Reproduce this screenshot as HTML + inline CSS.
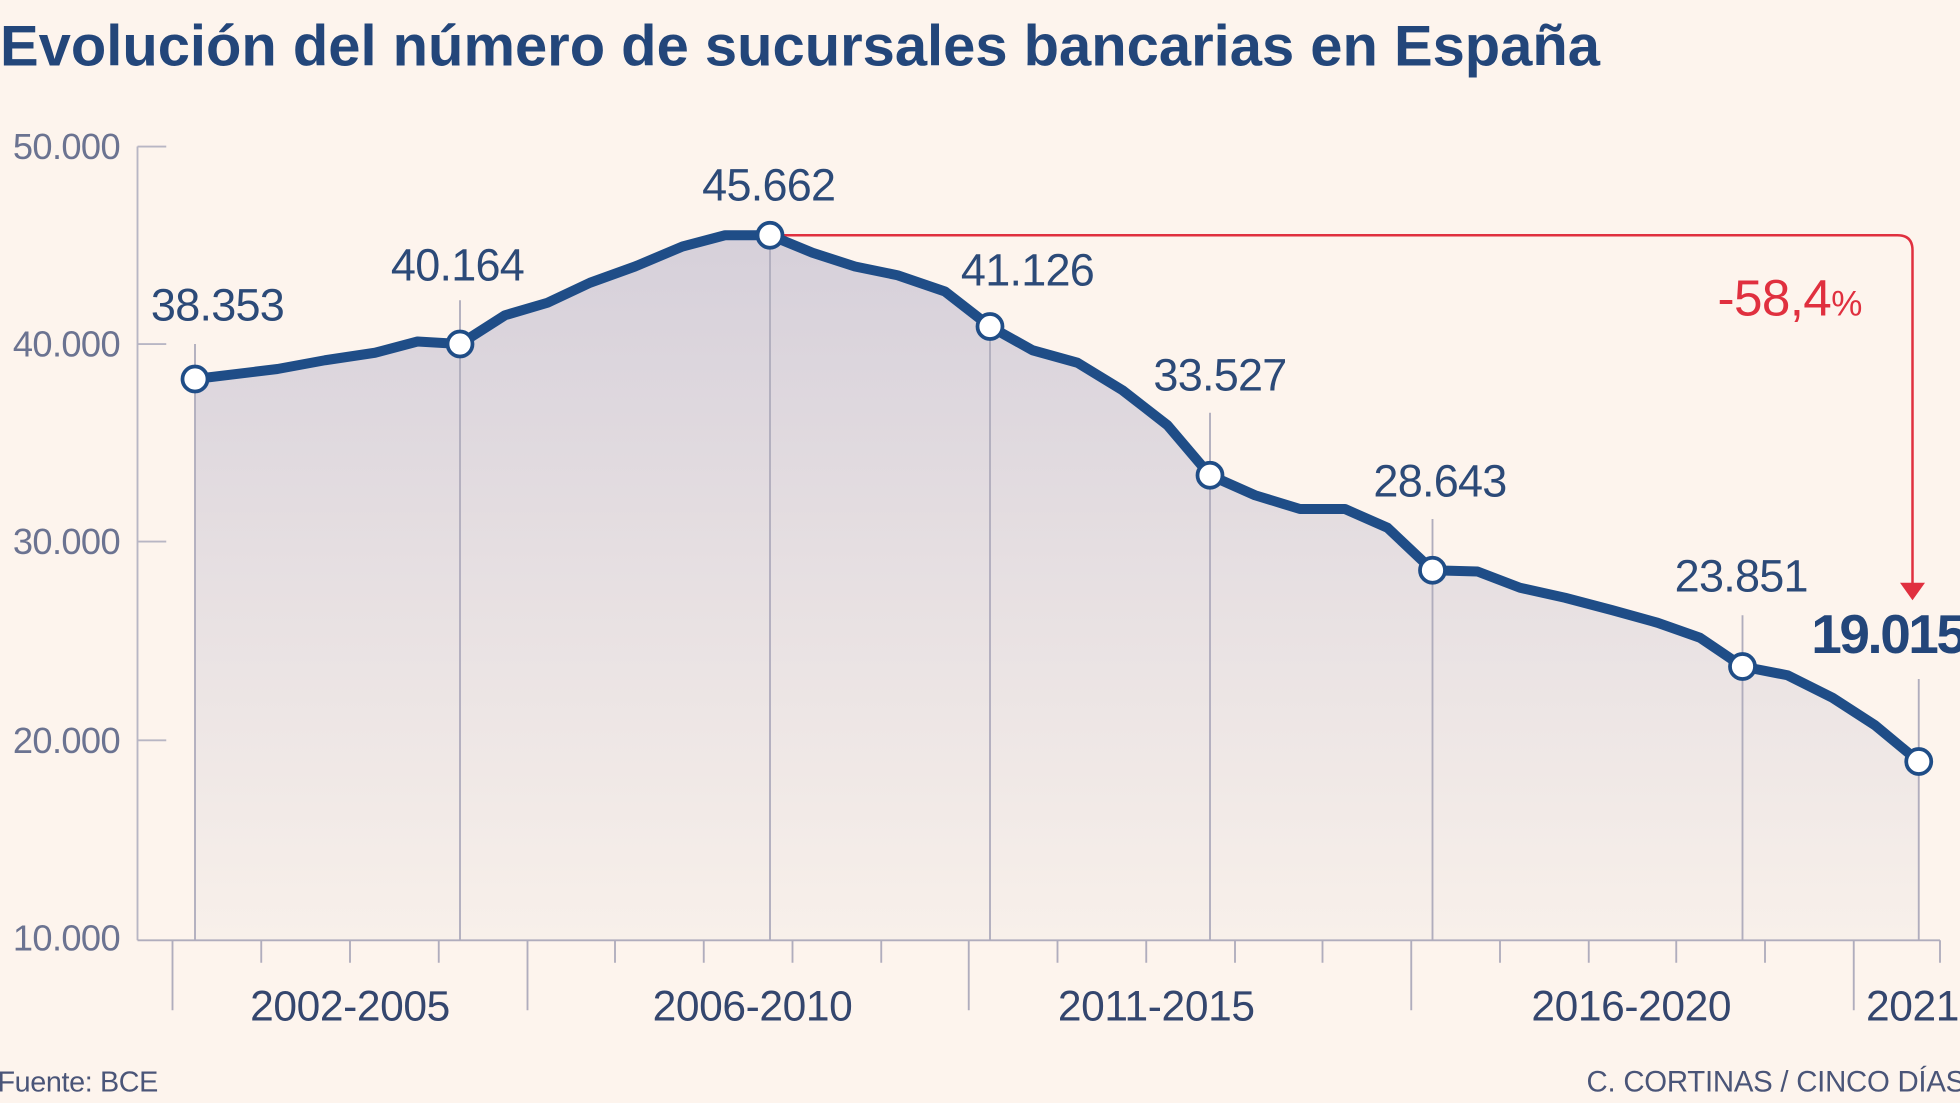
<!DOCTYPE html>
<html><head><meta charset="utf-8"><style>
html,body{margin:0;padding:0;background:#fdf4ed;}
svg{display:block;}
text{font-family:"Liberation Sans",sans-serif;}
</style></head><body>
<svg width="1960" height="1103" viewBox="0 0 1568 882" xmlns="http://www.w3.org/2000/svg">
<defs>
<linearGradient id="g" x1="0" y1="0" x2="0" y2="1">
<stop offset="0" stop-color="#d6d0da"/><stop offset="1" stop-color="#f8f0ea"/>
</linearGradient>
</defs>
<rect width="1568" height="882" fill="#fdf4ed"/>
<text x="0" y="52" font-size="46" font-weight="bold" fill="#23467a" textLength="1280" lengthAdjust="spacingAndGlyphs">Evolución del número de sucursales bancarias en España</text>
<g fill="#6b7391" font-size="29" text-anchor="end" letter-spacing="-0.5">
<text x="96" y="127">50.000</text><text x="96" y="285">40.000</text><text x="96" y="443">30.000</text><text x="96" y="602">20.000</text><text x="96" y="760">10.000</text>
</g>
<g stroke="#b8b6c4" stroke-width="1.5">
<line x1="110" y1="117" x2="110" y2="752"/>
<line x1="110" y1="117" x2="133" y2="117"/><line x1="110" y1="275" x2="133" y2="275"/><line x1="110" y1="433" x2="133" y2="433"/><line x1="110" y1="592" x2="133" y2="592"/>
</g>
<path d="M156,303 L222,295 L260,288 L300,282 L334,273 L368,275 L404,252 L438,242 L472,226 L508,213 L546,197 L580,188 L616,188 L650,202 L684,213 L718,220 L756,233 L792,261 L826,280 L862,290 L898,312 L934,340 L968,380 L1004,396 L1040,407 L1076,407 L1110,422 L1146,456 L1182,457 L1216,470 L1252,478 L1290,488 L1326,498 L1360,510 L1394,533 L1430,540 L1466,558 L1500,580 L1535,609 L1535,752 L156,752 Z" fill="url(#g)"/>
<g stroke="#b0adbd" stroke-width="1.5">
<line x1="156" y1="275" x2="156" y2="752"/><line x1="368" y1="240" x2="368" y2="752"/><line x1="616" y1="188" x2="616" y2="752"/><line x1="792" y1="261" x2="792" y2="752"/><line x1="968" y1="330" x2="968" y2="752"/><line x1="1146" y1="415" x2="1146" y2="752"/><line x1="1394" y1="492" x2="1394" y2="752"/><line x1="1535" y1="543" x2="1535" y2="752"/>
<line x1="110" y1="752" x2="1552" y2="752"/>
</g>
<g stroke="#b0adbd" stroke-width="1.5">
<line x1="138" y1="752" x2="138" y2="808"/><line x1="209" y1="752" x2="209" y2="770"/><line x1="280" y1="752" x2="280" y2="770"/><line x1="351" y1="752" x2="351" y2="770"/><line x1="422" y1="752" x2="422" y2="808"/><line x1="492" y1="752" x2="492" y2="770"/><line x1="563" y1="752" x2="563" y2="770"/><line x1="634" y1="752" x2="634" y2="770"/><line x1="705" y1="752" x2="705" y2="770"/><line x1="775" y1="752" x2="775" y2="808"/><line x1="846" y1="752" x2="846" y2="770"/><line x1="917" y1="752" x2="917" y2="770"/><line x1="988" y1="752" x2="988" y2="770"/><line x1="1058" y1="752" x2="1058" y2="770"/><line x1="1129" y1="752" x2="1129" y2="808"/><line x1="1200" y1="752" x2="1200" y2="770"/><line x1="1271" y1="752" x2="1271" y2="770"/><line x1="1341" y1="752" x2="1341" y2="770"/><line x1="1412" y1="752" x2="1412" y2="770"/><line x1="1483" y1="752" x2="1483" y2="808"/><line x1="1552" y1="752" x2="1552" y2="770"/>
</g>
<g fill="#34466e" font-size="34" text-anchor="middle" letter-spacing="-0.3">
<text x="280" y="816">2002-2005</text><text x="602" y="816">2006-2010</text><text x="925" y="816">2011-2015</text><text x="1305" y="816">2016-2020</text><text x="1530" y="816">2021</text>
</g>
<path d="M616,188 L1518,188 Q1530,188 1530,200 L1530,470" fill="none" stroke="#e0303f" stroke-width="2"/>
<polygon points="1520,466 1540,466 1530,480" fill="#e0303f"/>
<text x="1374" y="252" font-size="41" fill="#e0303f" letter-spacing="-0.5">-58,4<tspan font-size="28">%</tspan></text>
<path d="M156,303 L222,295 L260,288 L300,282 L334,273 L368,275 L404,252 L438,242 L472,226 L508,213 L546,197 L580,188 L616,188 L650,202 L684,213 L718,220 L756,233 L792,261 L826,280 L862,290 L898,312 L934,340 L968,380 L1004,396 L1040,407 L1076,407 L1110,422 L1146,456 L1182,457 L1216,470 L1252,478 L1290,488 L1326,498 L1360,510 L1394,533 L1430,540 L1466,558 L1500,580 L1535,609" fill="none" stroke="#1f4d87" stroke-width="8" stroke-linejoin="round" stroke-linecap="round"/>
<g fill="#fff" stroke="#1f4d87" stroke-width="3">
<circle cx="156" cy="303" r="10"/><circle cx="368" cy="275" r="10"/><circle cx="616" cy="188" r="10"/><circle cx="792" cy="261" r="10"/><circle cx="968" cy="380" r="10"/><circle cx="1146" cy="456" r="10"/><circle cx="1394" cy="533" r="10"/><circle cx="1535" cy="609" r="10"/>
</g>
<g fill="#2c4a78" font-size="36" text-anchor="middle" letter-spacing="-0.6">
<text x="174" y="256">38.353</text><text x="366" y="224">40.164</text><text x="615" y="160">45.662</text><text x="822" y="228">41.126</text><text x="976" y="312">33.527</text><text x="1152" y="397">28.643</text><text x="1393" y="473">23.851</text>
</g>
<text x="1449" y="522" font-size="44" font-weight="bold" fill="#23467a" letter-spacing="-2">19.015</text>
<text x="-2" y="873" font-size="23" fill="#4a5578" letter-spacing="-0.3">Fuente: BCE</text>
<text x="1572" y="873" font-size="23.5" fill="#4a5578" text-anchor="end" letter-spacing="-0.2">C. CORTINAS / CINCO DÍAS</text>
</svg>
</body></html>
